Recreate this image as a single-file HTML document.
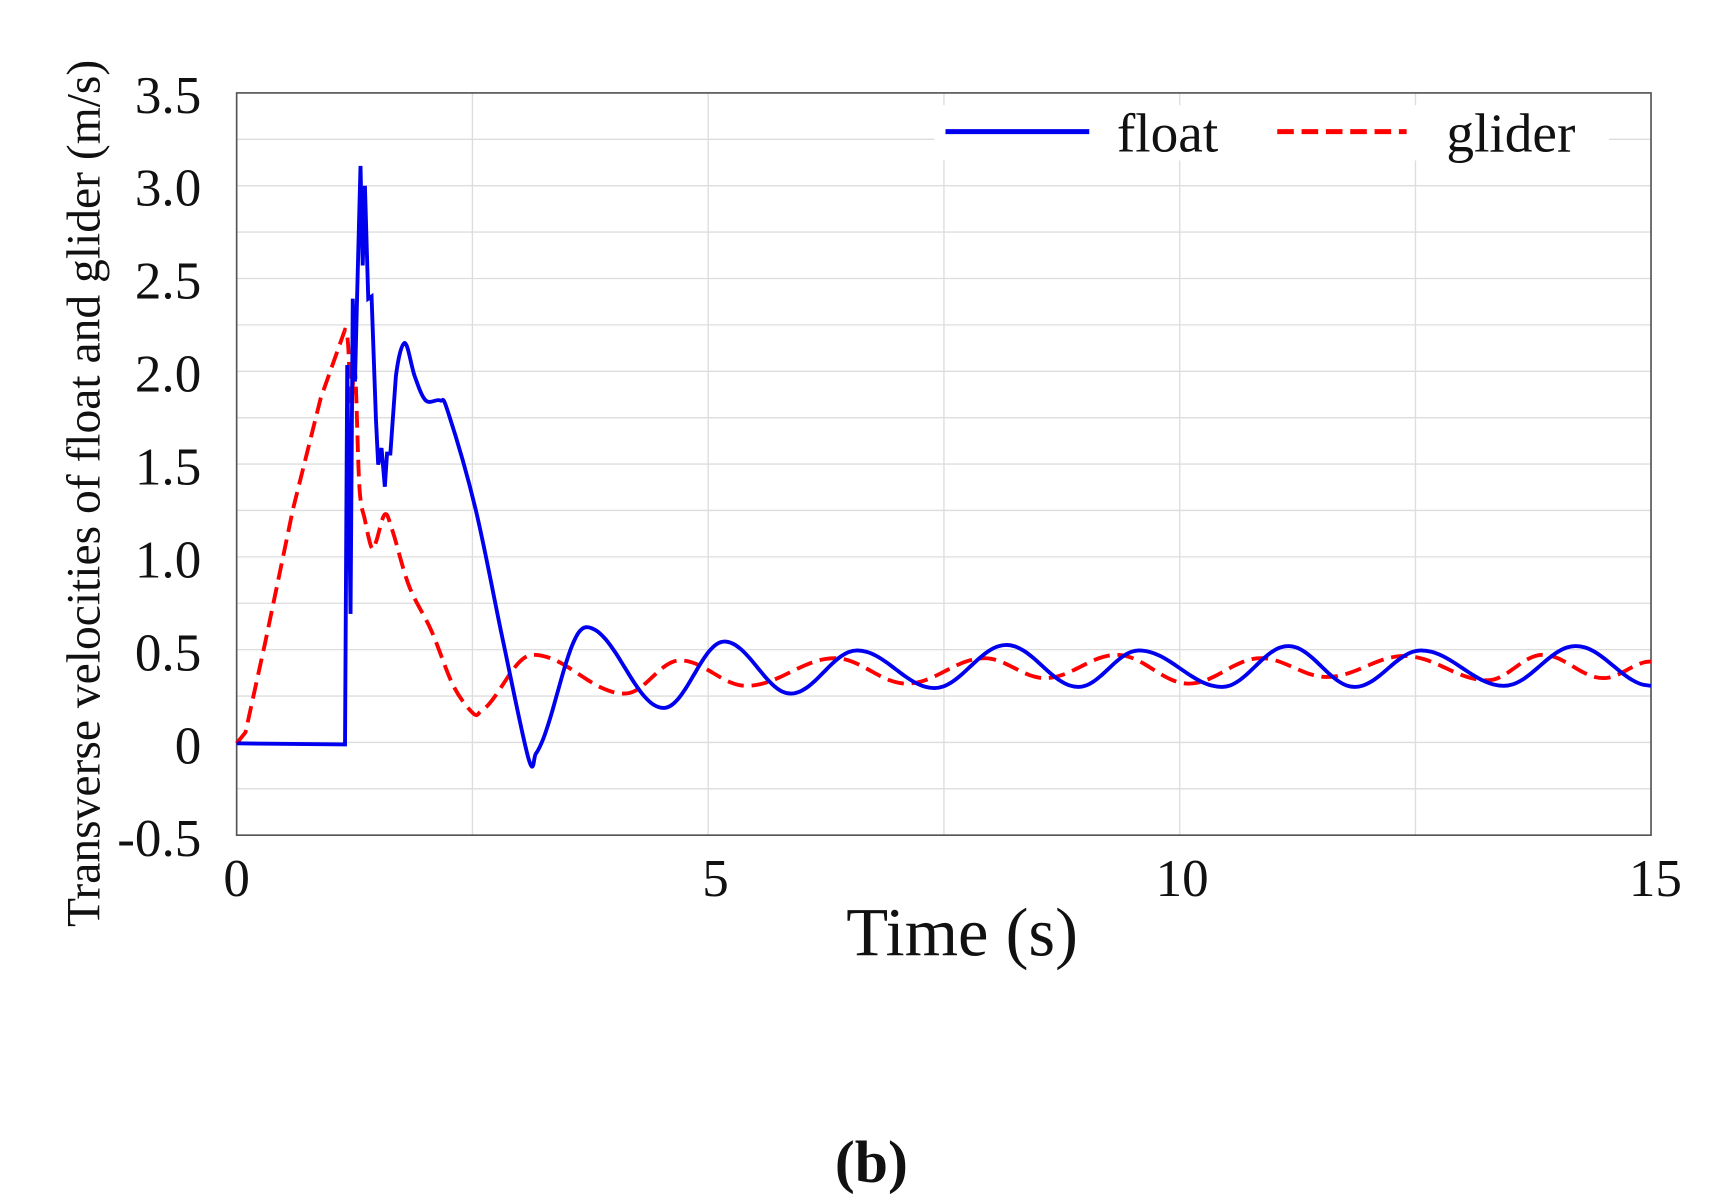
<!DOCTYPE html>
<html><head><meta charset="utf-8"><style>
html,body{margin:0;padding:0;background:#fff;}
svg{display:block;}
text{font-family:"Liberation Serif",serif;fill:#111;}
</style></head><body>
<svg id="s" width="1724" height="1198" viewBox="0 0 1559 1083" preserveAspectRatio="none" xmlns="http://www.w3.org/2000/svg">
<g id="grid"></g>
<rect x="214" y="84" width="1279" height="671" fill="none" stroke="#555" stroke-width="1.5"/>
<g font-size="48" text-anchor="end">
<text x="182" y="102">3.5</text><text x="182" y="186">3.0</text><text x="182" y="270">2.5</text>
<text x="182" y="354">2.0</text><text x="182" y="438">1.5</text><text x="182" y="522">1.0</text>
<text x="182" y="606">0.5</text><text x="182" y="690">0</text><text x="182" y="774">-0.5</text>
</g>
<g font-size="48" text-anchor="middle">
<text x="214" y="810">0</text><text x="647" y="810">5</text><text x="1069" y="810">10</text><text x="1497" y="810">15</text>
</g>
<text x="870" y="864" font-size="62" text-anchor="middle">Time (s)</text>
<text transform="translate(90,446) rotate(-90)" font-size="43" text-anchor="middle">Transverse velocities of float and glider (m/s)</text>
<text x="788" y="1068" font-size="54" font-weight="bold" text-anchor="middle">(b)</text>
<path id="g" fill="none" stroke="#f00" stroke-width="3.5" stroke-dasharray="15,7"/>
<path id="f" fill="none" stroke="#0000ee" stroke-width="3.5"/>
<rect x="845" y="95" width="610" height="50" fill="#fff"/>
<line x1="855" y1="119" x2="985" y2="119" stroke="#0000ee" stroke-width="4.5"/>
<text x="1010" y="137" font-size="50">float</text>
<line x1="1155" y1="119" x2="1272" y2="119" stroke="#f00" stroke-width="4.5" stroke-dasharray="15,7"/>
<text x="1308" y="137" font-size="50">glider</text>
</svg>
<script>
var G=document.getElementById('grid'),h='';
for(var i=1;i<16;i++){var y=84+i*41.94;h+='<line x1="214" x2="1493" y1="'+y+'" y2="'+y+'" stroke="#ddd" stroke-width="1.2"/>';}
for(var i=1;i<6;i++){var x=214+i*213.2;h+='<line y1="84" y2="755" x1="'+x+'" x2="'+x+'" stroke="#ddd" stroke-width="1.2"/>';}
G.innerHTML=h;
function cr(p,lin){var d='M'+p[0][0]+','+p[0][1];for(var i=0;i<p.length-1;i++){var a=p[Math.max(0,i-1)],b=p[i],c=p[i+1],e=p[Math.min(p.length-1,i+2)];
if(b[0]<lin){d+=' L'+c[0]+','+c[1];continue;}
d+=' C'+(b[0]+(c[0]-a[0])/6)+','+(b[1]+(c[1]-a[1])/6)+' '+(c[0]-(e[0]-b[0])/6)+','+(c[1]-(e[1]-b[1])/6)+' '+c[0]+','+c[1];}return d;}
function osc(ext){var p=[];for(var k=0;k<ext.length-1;k++){var a=ext[k],b=ext[k+1];for(var j=(k==0?0:1);j<=8;j++){var t=j/8;p.push([a[0]+(b[0]-a[0])*t,a[1]+(b[1]-a[1])*(1-Math.cos(Math.PI*t))/2]);}}return p;}
var f=[[214,672],[312,673],[314,330],[317,555],[319,270],[321,345],[323,265],[326,150],[328,240],[330,168],[333,270],[336,268],[340,380],[342,420],[345,405],[348,440],[350,410],[353,410],[358,340],[366,310],[375,340],[385,362],[398,362],[405,372],[430,460],[455,580]];
f=f.concat(osc([[478,686],[530,567],[600,640],[655,580],[715,627],[775,588],[845,622],[910,583],[975,621],[1030,588],[1105,621],[1165,584],[1225,621],[1285,588],[1360,620],[1425,584],[1493,620]]));
var g=[[214,672],[222,662],[240,580],[265,460],[290,360],[312,298],[317,365],[321,335],[325,440],[330,470],[336,495],[340,490],[348,465],[355,480],[370,530],[390,570],[410,620]];
g=g.concat(osc([[428,645],[482,592],[565,627],[615,597],[675,620],[755,595],[820,618],[890,595],[945,613],[1010,592],[1075,618],[1140,595],[1200,612],[1270,593],[1345,615],[1395,592],[1450,613],[1493,598]]));
document.getElementById('f').setAttribute('d',cr(f,356));
document.getElementById('g').setAttribute('d',cr(g,309));
</script>
</body></html>
